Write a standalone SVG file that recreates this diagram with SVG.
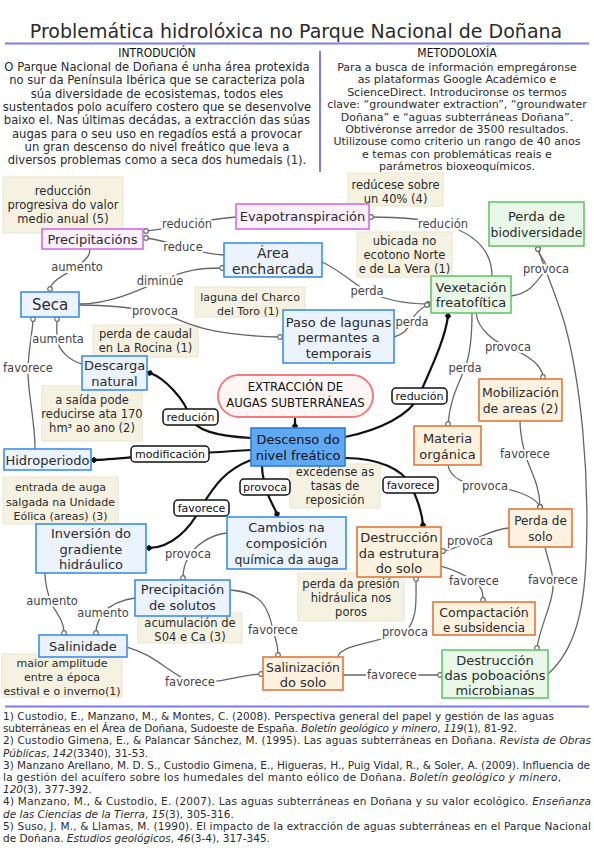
<svg xmlns="http://www.w3.org/2000/svg" width="594" height="848" viewBox="0 0 594 848">
<style>
text{font-family:'DejaVu Sans','Noto Sans',sans-serif;fill:#2b2b2b}
.t{font-size:19px;text-anchor:middle}
.h{font-family:'DejaVu Sans Condensed','DejaVu Sans',sans-serif;font-stretch:condensed;font-size:12px;text-anchor:middle;fill:#111}
.p{font-size:11px;text-anchor:middle}
.pi{font-size:11.6px;text-anchor:middle}
.r{font-size:10.5px}
.i{font-style:italic}
.n{font-size:13px;text-anchor:middle}
.nt{font-size:11.5px;text-anchor:middle}
.lb{font-size:11.5px;text-anchor:middle;fill:#444;stroke:#fff;stroke-width:4px;paint-order:stroke;stroke-linejoin:round}
.bl{font-size:11px;text-anchor:middle;fill:#111}
.c{fill:none;stroke:#666;stroke-width:1.3;marker-end:url(#oc)}
.k{fill:none;stroke:#111;stroke-width:2.2;marker-end:url(#bd)}
.bx{fill:#fff;stroke:#111;stroke-width:1.5}
.note{fill:#f6f2e1;stroke:#ebe5cb;stroke-width:1}
.blue{fill:#eaf3fe;stroke:#3d8fe8;stroke-width:1.6}
.dark{fill:#5fa8f2;stroke:#2b7de0;stroke-width:1.6}
.pur{fill:#fcf0fd;stroke:#cf6fe0;stroke-width:1.6}
.grn{fill:#e9f7e8;stroke:#66c667;stroke-width:1.6}
.org{fill:#fdf2df;stroke:#e0773a;stroke-width:1.6}
.ext{fill:#fff6f5;stroke:#f27c7c;stroke-width:2}
.rule{stroke:#7c7cf0;stroke-width:2}
</style>
<defs>
<marker id="oc" markerWidth="8" markerHeight="8" refX="4" refY="4" markerUnits="userSpaceOnUse"><circle cx="4" cy="4" r="2.3" fill="#fff" stroke="#666" stroke-width="1.2"/></marker>
<marker id="bd" markerWidth="8" markerHeight="8" refX="4" refY="4" orient="auto" markerUnits="userSpaceOnUse"><path d="M0 4 L4 0.8 L8 4 L4 7.2Z" fill="#111"/></marker>
</defs>
<rect width="594" height="848" fill="#fff"/>

<g id="header">
<text class="t" x="296" y="38">Problemática hidrolóxica no Parque Nacional de Doñana</text>
<line class="rule" x1="5" y1="43.5" x2="589" y2="43.5"/>
<line class="rule" x1="320" y1="51" x2="320" y2="172"/>
<text class="h" x="157" y="57">INTRODUCIÓN</text>
<text class="pi" x="157" y="71">O Parque Nacional de Doñana é unha área protexida</text>
<text class="pi" x="157" y="84.3">no sur da Península Ibérica que se caracteriza pola</text>
<text class="pi" x="157" y="97.6">súa diversidade de ecosistemas, todos eles</text>
<text class="pi" x="157" y="110.9">sustentados polo acuífero costero que se desenvolve</text>
<text class="pi" x="157" y="124.2">baixo el. Nas últimas decádas, a extracción das súas</text>
<text class="pi" x="157" y="137.5">augas para o seu uso en regadíos está a provocar</text>
<text class="pi" x="157" y="150.8">un gran descenso do nivel freático que leva a</text>
<text class="pi" x="157" y="164.1">diversos problemas como a seca dos humedais (1).</text>
<text class="h" x="457" y="57">METODOLOXÍA</text>
<text class="p" x="457" y="71">Para a busca de información empregáronse</text>
<text class="p" x="457" y="83.4">as plataformas Google Académico e</text>
<text class="p" x="457" y="95.8">ScienceDirect. Introducironse os termos</text>
<text class="p" x="457" y="108.2">clave: “groundwater extraction”, “groundwater</text>
<text class="p" x="457" y="120.6">Doñana” e “aguas subterráneas Doñana”.</text>
<text class="p" x="457" y="133">Obtivéronse arredor de 3500 resultados.</text>
<text class="p" x="457" y="145.4">Utilizouse como criterio un rango de 40 anos</text>
<text class="p" x="457" y="157.8">e temas con problemáticas reais e</text>
<text class="p" x="457" y="170.2">parámetros bioxeoquímicos.</text>
</g>

<g id="notes">
<g id="note-precip"><rect class="note" x="3" y="177" width="120" height="56"/><text class="nt" x="63" y="195">reducción</text><text class="nt" x="63" y="209">progresiva do valor</text><text class="nt" x="63" y="223">medio anual (5)</text></g>
<g id="note-evapo"><rect class="note" x="348" y="173" width="95" height="33"/><text class="nt" x="395.5" y="189">redúcese sobre</text><text class="nt" x="395.5" y="203">un 40% (4)</text></g>
<g id="note-vex"><rect class="note" x="357" y="232" width="95" height="45"/><text class="nt" x="404.5" y="245">ubicada no</text><text class="nt" x="404.5" y="259">ecotono Norte</text><text class="nt" x="404.5" y="273">e de La Vera (1)</text></g>
<g id="note-laguna"><rect class="note" x="195" y="287" width="110" height="30"/><text class="nt" x="250" y="300.5" style="font-size:11px">laguna del Charco</text><text class="nt" x="248" y="314.5" style="font-size:11px">del Toro (1)</text></g>
<g id="note-caudal"><rect class="note" x="93" y="325" width="105" height="32"/><text class="nt" x="145.5" y="338">perda de caudal</text><text class="nt" x="145.5" y="352">en La Rocina (1)</text></g>
<g id="note-saida"><rect class="note" x="42" y="386" width="100" height="55"/><text class="nt" x="92" y="404">a saída pode</text><text class="nt" x="92" y="418">reducirse ata 170</text><text class="nt" x="92" y="432">hm³ ao ano (2)</text></g>
<g id="note-tasas"><rect class="note" x="290" y="464" width="90" height="44"/><text class="nt" x="335" y="475.5">excédense as</text><text class="nt" x="335" y="490">tasas de</text><text class="nt" x="335" y="504">reposición</text></g>
<g id="note-entrada"><rect class="note" x="3" y="477" width="115" height="47"/><text class="nt" x="60.5" y="491" style="font-size:11px">entrada de auga</text><text class="nt" x="60.5" y="505.5" style="font-size:11px">salgada na Unidade</text><text class="nt" x="60.5" y="519.5" style="font-size:11px">Eólica (areas) (3)</text></g>
<g id="note-presion"><rect class="note" x="298" y="573" width="106" height="48"/><text class="nt" x="351" y="588">perda da presión</text><text class="nt" x="351" y="601.5">hidráulica nos</text><text class="nt" x="351" y="616">poros</text></g>
<g id="note-acum"><rect class="note" x="138" y="613" width="104" height="30"/><text class="nt" x="190" y="627">acumulación de</text><text class="nt" x="190" y="641">S04 e Ca (3)</text></g>
<g id="note-amplitude"><rect class="note" x="2" y="654" width="120" height="43"/><text class="nt" x="62" y="667" style="font-size:11px">maior amplitude</text><text class="nt" x="62" y="681" style="font-size:11px">entre a época</text><text class="nt" x="62" y="694.5" style="font-size:11px">estival e o inverno(1)</text></g>
</g>

<g id="connectors">
<path class="c" d="M236 217 C220 218 205 221 187 224 C170 227 160 230 146 231"/>
<path class="c" d="M224 255 C205 254 195 250 183 247 C170 243 160 240 146 238"/>
<path class="c" d="M90 249 C90 258 82 262 77 267 C65 275 52 280 50 289"/>
<path class="c" d="M79 304 C110 304 140 290 160 281 C185 270 200 268 222 268"/>
<path class="c" d="M79 305 C115 305 135 308 155 312 C185 318 190 335 280 337"/>
<path class="c" d="M322 262 C340 270 355 285 367 291 C385 300 405 304 428 304"/>
<path class="c" d="M394 337 C402 335 408 330 411 322 C414 314 420 309 427 305"/>
<path class="c" d="M492 276 C492 255 480 235 443 224 C420 218 395 217 371 217"/>
<path class="c" d="M511 296 C528 294 535 285 546 269 C548 262 538 256 538 249"/>
<path class="c" d="M548 674 C575 650 584 610 586 560 C590 470 580 380 565 325 C558 300 545 270 538 249"/>
<path class="c" d="M476 313 C478 330 495 342 508 347 C528 355 542 365 543 377"/>
<path class="c" d="M472 313 C472 340 470 355 465 368 C458 385 450 400 448 424"/>
<path class="c" d="M520 421 C520 435 523 445 525 454 C530 470 540 485 540 507"/>
<path class="c" d="M448 465 C450 478 465 485 485 486 C510 488 535 495 540 507"/>
<path class="c" d="M509 528 C495 529 485 535 470 541 C460 546 452 550 443 551"/>
<path class="c" d="M545 547 C548 560 552 570 553 580 C555 600 540 625 537 648"/>
<path class="c" d="M441 566 C455 570 465 575 474 581 C482 587 483 592 483 600"/>
<path class="c" d="M338 657 C340 645 375 643 405 632 C418 620 416 600 416 579"/>
<path class="c" d="M343 675 L440 675"/>
<path class="c" d="M127 647 C155 655 165 670 190 682 C215 685 240 675 261 674"/>
<path class="c" d="M230 590 C260 592 268 605 273 630 C276 640 278 645 278 655"/>
<path class="c" d="M135 598 C120 600 110 605 103 613 C98 620 96 625 96 633"/>
<path class="c" d="M45 573 C45 585 48 595 52 605 C58 615 64 622 64 633"/>
<path class="c" d="M227 533 C210 535 195 545 188 558 C184 565 183 570 183 578"/>
<path class="c" d="M35 449 C35 420 28 395 28 372 C28 350 33 330 33 319"/>
<path class="c" d="M82 364 C68 360 60 350 58 343 C56 335 57 325 57 319"/>

<path class="k" d="M295 417 L295 426"/>
<path class="k" d="M251 438 C215 436 195 430 190 417 C185 400 165 378 150 373"/>
<path class="k" d="M251 450 C220 452 190 454 170 454 C140 456 110 460 94 460"/>
<path class="k" d="M345 437 C380 430 410 415 419 396 C430 370 445 340 448 316"/>
<path class="k" d="M251 460 C225 470 215 485 201 507 C190 530 170 548 149 548"/>
<path class="k" d="M262 466 C262 475 264 480 265 486 C268 497 273 505 277 514"/>
<path class="k" d="M345 458 C380 458 402 470 410 484 C418 500 422 512 423 525"/>

<text class="lb" x="187" y="228">redución</text>
<text class="lb" x="183" y="251">reduce</text>
<text class="lb" x="77" y="271">aumento</text>
<text class="lb" x="160" y="285">diminúe</text>
<text class="lb" x="155" y="315">provoca</text>
<text class="lb" x="367" y="295">perda</text>
<text class="lb" x="412" y="326">perda</text>
<text class="lb" x="443" y="228">redución</text>
<text class="lb" x="546" y="273">provoca</text>
<text class="lb" x="508" y="351">provoca</text>
<text class="lb" x="465" y="372">perda</text>
<text class="lb" x="58" y="343">aumenta</text>
<text class="lb" x="28" y="372">favorece</text>
<text class="lb" x="525" y="458">favorece</text>
<text class="lb" x="485" y="490">provoca</text>
<text class="lb" x="470" y="545">provoca</text>
<text class="lb" x="553" y="584">favorece</text>
<text class="lb" x="474" y="585">favorece</text>
<text class="lb" x="405" y="636">provoca</text>
<text class="lb" x="392" y="679">favorece</text>
<text class="lb" x="190" y="686">favorece</text>
<text class="lb" x="273" y="634">favorece</text>
<text class="lb" x="103" y="617">aumento</text>
<text class="lb" x="52" y="605">aumento</text>
<text class="lb" x="188" y="558">provoca</text>

<rect class="bx" x="163" y="409" width="55" height="16" rx="4"/><text class="bl" x="190.5" y="421">redución</text>
<rect class="bx" x="131" y="446" width="78" height="16" rx="4"/><text class="bl" x="170" y="458">modificación</text>
<rect class="bx" x="392" y="388" width="55" height="16" rx="4"/><text class="bl" x="419.5" y="400">redución</text>
<rect class="bx" x="174" y="500" width="55" height="16" rx="4"/><text class="bl" x="201.5" y="512">favorece</text>
<rect class="bx" x="240" y="479" width="50" height="16" rx="4"/><text class="bl" x="265" y="491">provoca</text>
<rect class="bx" x="383" y="477" width="55" height="16" rx="4"/><text class="bl" x="410.5" y="489">favorece</text>
</g>

<g id="evapotranspiracion"><rect class="pur" x="236" y="204" width="133" height="25"/><text class="n" x="302.5" y="221">Evapotranspiración</text></g>
<g id="precipitacions"><rect class="pur" x="42" y="229" width="101" height="20"/><text class="n" x="92.5" y="243.5">Precipitacións</text></g>
<g id="area-encharcada"><rect class="blue" x="224" y="243" width="98" height="34"/><text class="n" x="273" y="257.5" style="font-size:14px">Área</text><text class="n" x="273" y="273.5" style="font-size:14px">encharcada</text></g>
<g id="seca"><rect class="blue" x="21" y="292" width="58" height="25"/><text class="n" x="50" y="309.5" style="font-size:15px">Seca</text></g>
<g id="paso-lagunas"><rect class="blue" x="283" y="310" width="111" height="53"/><text class="n" x="338.5" y="326.5">Paso de lagunas</text><text class="n" x="338.5" y="341.5">permantes a</text><text class="n" x="338.5" y="357.5">temporais</text></g>
<g id="vexetacion"><rect class="grn" x="431" y="276" width="80" height="37"/><text class="n" x="471" y="291.5">Vexetación</text><text class="n" x="471" y="306.5">freatofítica</text></g>
<g id="biodiversidade"><rect class="grn" x="489" y="202" width="95" height="44"/><text class="n" x="536.5" y="220.5">Perda de</text><text class="n" x="536.5" y="236.5" style="font-size:12.5px">biodiversidade</text></g>
<g id="descarga"><rect class="blue" x="82" y="356" width="65" height="34"/><text class="n" x="114.5" y="369.5">Descarga</text><text class="n" x="114.5" y="386">natural</text></g>
<g id="extraccion"><rect class="ext" x="218" y="375" width="155" height="42" rx="21"/><text class="h" x="295.5" y="391" style="font-size:13px">EXTRACCIÓN DE</text><text class="h" x="295.5" y="407" style="font-size:13px">AUGAS SUBTERRÁNEAS</text></g>
<g id="descenso"><rect class="dark" x="251" y="428" width="94" height="38"/><text class="n" x="298" y="443.5" style="fill:#111">Descenso do</text><text class="n" x="298" y="460" style="fill:#111">nivel freático</text></g>
<g id="hidroperiodo"><rect class="blue" x="4" y="449" width="87" height="21"/><text class="n" x="47.5" y="464.5">Hidroperiodo</text></g>
<g id="inversion"><rect class="blue" x="36" y="524" width="110" height="49"/><text class="n" x="91" y="537.5">Inversión do</text><text class="n" x="91" y="553.5">gradiente</text><text class="n" x="91" y="569">hidráulico</text></g>
<g id="cambios"><rect class="blue" x="227" y="517" width="119" height="52"/><text class="n" x="286.5" y="531.5">Cambios na</text><text class="n" x="286.5" y="547.5">composición</text><text class="n" x="286.5" y="563.5" style="font-size:12.5px">química da auga</text></g>
<g id="precipitacion-solutos"><rect class="blue" x="135" y="580" width="95" height="36"/><text class="n" x="182.5" y="593.5">Precipitación</text><text class="n" x="182.5" y="609.5">de solutos</text></g>
<g id="salinidade"><rect class="blue" x="39" y="635" width="88" height="22"/><text class="n" x="83" y="650.5">Salinidade</text></g>
<g id="salinizacion"><rect class="org" x="263" y="657" width="80" height="33"/><text class="n" x="303" y="671.5" style="font-size:12.5px">Salinización</text><text class="n" x="303" y="687">do solo</text></g>
<g id="destruccion-poboacions"><rect class="grn" x="442" y="650" width="106" height="48"/><text class="n" x="495" y="664.5">Destrucción</text><text class="n" x="495" y="680">das poboacións</text><text class="n" x="495" y="695">microbianas</text></g>
<g id="compactacion"><rect class="org" x="433" y="602" width="102" height="33"/><text class="n" x="484" y="616.5" style="font-size:12.5px">Compactación</text><text class="n" x="484" y="631.5" style="font-size:12px">e subsidencia</text></g>
<g id="destruccion-estrutura"><rect class="org" x="357" y="527" width="84" height="50"/><text class="n" x="399" y="541.5">Destrucción</text><text class="n" x="399" y="557.5">da estrutura</text><text class="n" x="399" y="573">do solo</text></g>
<g id="perda-solo"><rect class="org" x="509" y="509" width="63" height="38"/><text class="n" x="540.5" y="524.5" style="font-size:12px">Perda de</text><text class="n" x="540.5" y="540.5" style="font-size:12px">solo</text></g>
<g id="materia-organica"><rect class="org" x="414" y="426" width="67" height="39"/><text class="n" x="447.5" y="442.5">Materia</text><text class="n" x="447.5" y="459">orgánica</text></g>
<g id="mobilizacion"><rect class="org" x="479" y="379" width="83" height="42"/><text class="n" x="520.5" y="396.5" style="font-size:12.5px">Mobilización</text><text class="n" x="520.5" y="412.5" style="font-size:12.5px">de areas (2)</text></g>

<g id="references">
<line class="rule" x1="5" y1="706.5" x2="589" y2="706.5"/>
<text class="r" x="3" y="720" textLength="551" lengthAdjust="spacing">1) Custodio, E., Manzano, M., &amp; Montes, C. (2008). Perspectiva general del papel y gestión de las aguas</text>
<text class="r" x="3" y="732.2" textLength="514" lengthAdjust="spacing">subterráneas en el Área de Doñana, Sudoeste de España. <tspan class="i">Boletín geológico y minero</tspan>, <tspan class="i">119</tspan>(1), 81-92.</text>
<text class="r" x="3" y="744.4" textLength="588" lengthAdjust="spacing">2) Custodio Gimena, E., &amp; Palancar Sánchez, M. (1995). Las aguas subterráneas en Doñana. <tspan class="i">Revista de Obras</tspan></text>
<text class="r" x="3" y="756.6"><tspan class="i">Públicas</tspan>, <tspan class="i">142</tspan>(3340), 31-53.</text>
<text class="r" x="3" y="768.8" textLength="587" lengthAdjust="spacing">3) Manzano Arellano, M. D. S., Custodio Gimena, E., Higueras, H., Puig Vidal, R., &amp; Soler, A. (2009). Influencia de</text>
<text class="r" x="3" y="781" textLength="558" lengthAdjust="spacing">la gestión del acuífero sobre los humedales del manto eólico de Doñana. <tspan class="i">Boletín geológico y minero</tspan>,</text>
<text class="r" x="3" y="793.2"><tspan class="i">120</tspan>(3), 377-392.</text>
<text class="r" x="3" y="805.4" textLength="588" lengthAdjust="spacing">4) Manzano, M., &amp; Custodio, E. (2007). Las aguas subterráneas en Doñana y su valor ecológico. <tspan class="i">Enseñanza</tspan></text>
<text class="r" x="3" y="817.6"><tspan class="i">de las Ciencias de la Tierra</tspan>, <tspan class="i">15</tspan>(3), 305-316.</text>
<text class="r" x="3" y="829.8" textLength="588" lengthAdjust="spacing">5) Suso, J. M., &amp; Llamas, M. (1990). El impacto de la extracción de aguas subterráneas en el Parque Nacional</text>
<text class="r" x="3" y="842">de Doñana. <tspan class="i">Estudios geológicos</tspan>, <tspan class="i">46</tspan>(3-4), 317-345.</text>
</g>
</svg>
